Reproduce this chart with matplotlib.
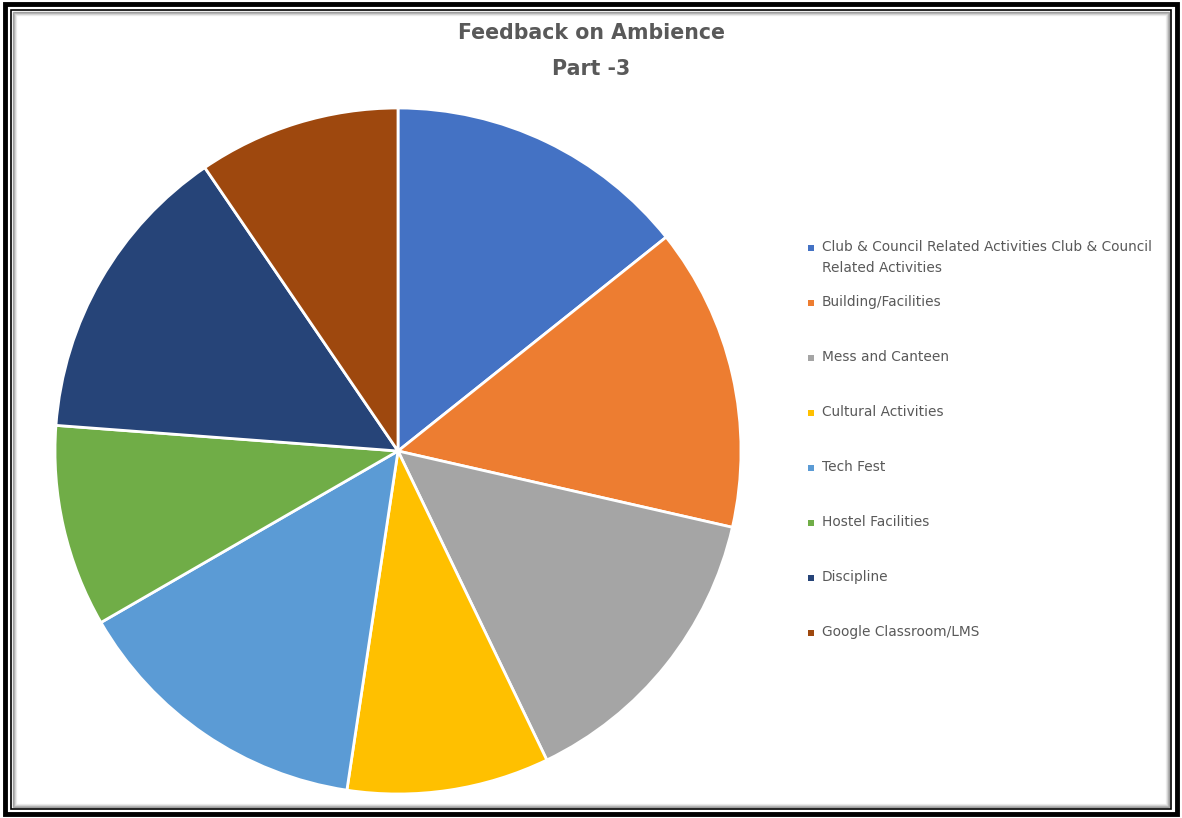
import numpy as np
import matplotlib.pyplot as plt
from matplotlib.patches import Rectangle

# Feedback on Ambience, part 3 - pie chart with side legend
labels = ['Club & Council Related Activities Club & Council\nRelated Activities',
          'Building/Facilities',
          'Mess and Canteen',
          'Cultural Activities',
          'Tech Fest',
          'Hostel Facilities',
          'Discipline',
          'Google Classroom/LMS']
values = [3, 3, 3, 2, 3, 2, 3, 2]
colors = ['#4472C4', '#ED7D31', '#A5A5A5', '#FFC000',
          '#5B9BD5', '#70AD47', '#264478', '#9E480E']

W, H = 1182, 818
fig = plt.figure(figsize=(W / 100, H / 100), dpi=100)
fig.patch.set_facecolor('white')

# frame around the chart
fig.add_artist(Rectangle((5 / W, 4 / H), 1 - 10 / W, 1 - 8 / H, transform=fig.transFigure,
                         fill=False, edgecolor='black', linewidth=3.5))
fig.add_artist(Rectangle((11 / W, 9 / H), 1 - 22 / W, 1 - 19 / H, transform=fig.transFigure,
                         fill=False, edgecolor='black', linewidth=1.2))
for i, a in enumerate([0.35, 0.22, 0.12, 0.06]):
    fig.add_artist(Rectangle(((13 + i) / W, (11 + i) / H), 1 - (26 + 2 * i) / W, 1 - (23 + 2 * i) / H,
                             transform=fig.transFigure, fill=False,
                             edgecolor=(0, 0, 0, a), linewidth=1))

cx, cy, r = 398, 451, 343
ax = fig.add_axes([(cx - r) / W, (H - cy - r) / H, 2 * r / W, 2 * r / H])
ax.pie(values, colors=colors, startangle=90, counterclock=False, radius=1,
       wedgeprops=dict(edgecolor='white', linewidth=2))
ax.set_xlim(-1.0, 1.0)
ax.set_ylim(-1.0, 1.0)
ax.set_aspect('equal')
ax.axis('off')

fig.text(591 / W, 1 - 33 / H, 'Feedback on Ambience', ha='center', va='center',
         fontsize=14.8, fontweight='bold', color='#595959')
fig.text(591 / W, 1 - 69 / H, 'Part -3', ha='center', va='center',
         fontsize=14.8, fontweight='bold', color='#595959')

# legend, drawn by hand to keep Excel's spacing
ys = [248, 303, 358, 413, 468, 523, 578, 633]
for lab, col, y in zip(labels, colors, ys):
    fig.add_artist(Rectangle((808 / W, 1 - (y + 3) / H), 6 / W, 6 / H,
                             transform=fig.transFigure, facecolor=col, edgecolor='none'))
    fig.text(822 / W, 1 - (y - 8) / H, lab, ha='left', va='top', fontsize=9.9,
             color='#595959', linespacing=1.65)

fig.savefig('out.png', dpi=100)
